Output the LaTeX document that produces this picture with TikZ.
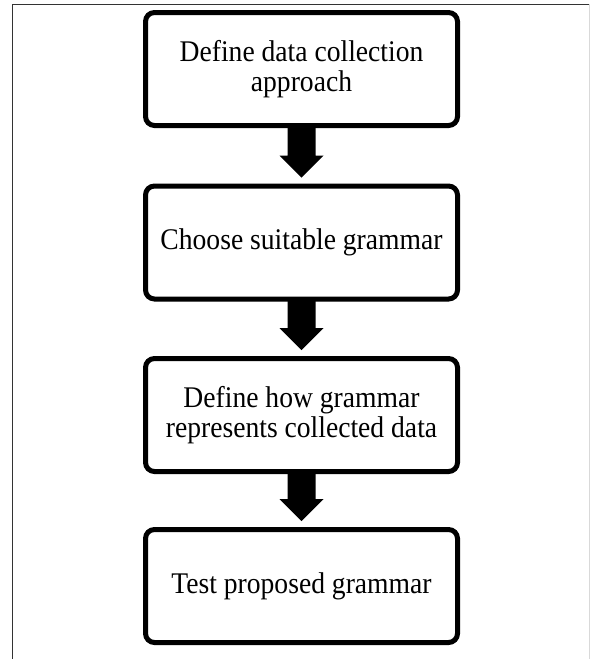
\documentclass[tikz,border=0pt]{standalone}
\usepackage{fontspec}
\setmainfont[FakeStretch=0.92]{Liberation Serif}
\usetikzlibrary{calc,shadows}
\begin{document}
\begin{tikzpicture}[x=1pt,y=1pt,
  stepbox/.style={draw=black, line width=5pt, rounded corners=9pt, fill=white,
    minimum width=312pt, minimum height=113pt, align=center,
    font=\fontsize{30}{30}\selectfont,
    drop shadow={shadow xshift=1.5pt, shadow yshift=-2pt, opacity=0.35, fill=black!60}},
  blockarrow/.style={fill=black}]
\useasboundingbox (0,0) rectangle (591,-659);
\fill[white] (0,0) rectangle (591,-659);
% frame
\draw[line width=1pt, black!80] (12,-659) -- (12,-4) -- (589.5,-4);
\draw[line width=1pt, black!15] (589.5,-4) -- (589.5,-659);
% boxes
\node[stepbox] (s1) at (301.5,-69) {Define data collection\\approach};
\node[stepbox] (s2) at (301.5,-242.5) {Choose suitable grammar};
\node[stepbox] (s3) at (301.5,-415) {Define how grammar\\represents collected data};
\node[stepbox] (s4) at (301.5,-586) {Test proposed grammar};
% arrows
\foreach \a/\b in {s1/s2, s2/s3, s3/s4}{
  \fill[blockarrow] ($(\a.south)+(-14,1)$) -- ($(\b.north)+(-14,28)$) -- ($(\b.north)+(-22,28)$)
    -- ($(\b.north)+(0,6)$) -- ($(\b.north)+(22,28)$) -- ($(\b.north)+(14,28)$)
    -- ($(\a.south)+(14,1)$) -- cycle;
}
\end{tikzpicture}
\end{document}
